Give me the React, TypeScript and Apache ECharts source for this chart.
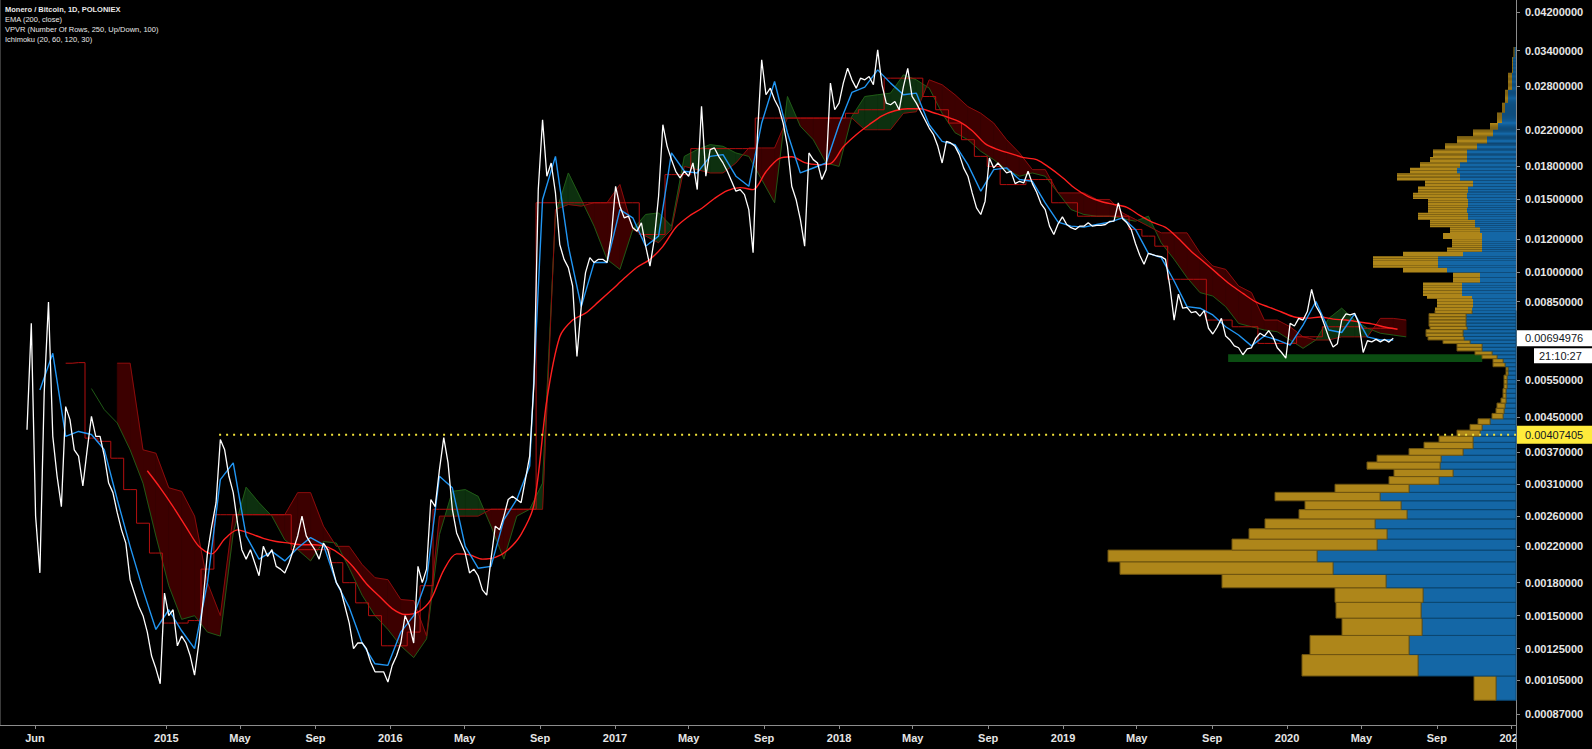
import React, { useEffect, useRef } from "react";
import * as echarts from "echarts";

// ---------------- texts ----------------
const headerLines = [
  "Monero / Bitcoin, 1D, POLONIEX",
  "EMA (200, close)",
  "VPVR (Number Of Rows, 250, Up/Down, 100)",
  "Ichimoku (20, 60, 120, 30)",
];
const monthNames = ["Jan", "Feb", "Mar", "Apr", "May", "Jun", "Jul", "Aug", "Sep", "Oct", "Nov", "Dec"];
// x tick dates [year, month, day]
const xTickDates = [
  [2014, 6, 1], [2015, 1, 1], [2015, 5, 1], [2015, 9, 1], [2016, 1, 1], [2016, 5, 1], [2016, 9, 1],
  [2017, 1, 1], [2017, 5, 1], [2017, 9, 1], [2018, 1, 1], [2018, 5, 1], [2018, 9, 1], [2019, 1, 1],
  [2019, 5, 1], [2019, 9, 1], [2020, 1, 1], [2020, 5, 1], [2020, 9, 1], [2021, 1, 1],
];
const yTickValues = [
  0.042, 0.034, 0.028, 0.022, 0.018, 0.015, 0.012, 0.01, 0.0085, 0.0055, 0.0045, 0.0037, 0.0031,
  0.0026, 0.0022, 0.0018, 0.0015, 0.00125, 0.00105, 0.00087,
];
const X_MIN = [2014, 4, 5];
const X_MAX = [2021, 1, 8];
const Y_MIN = 0.00082;
const Y_MAX = 0.045;

const LAST_PRICE = 0.00694976;
const LAST_TIME = "21:10:27";
const LEVEL_PRICE = 0.00407405;
const LEVEL_START = [2015, 3, 28];
const zoneDates = [[2019, 9, 27], [2020, 11, 14]];
const zonePrices = [0.00636, 0.00609];

// ---------------- weekly series (week 0 = 2014-05-19) ----------------
const WEEK0 = [2014, 5, 19];
const priceClose2014_2016 = [
  0.00419, 0.00754, 0.0026, 0.0019, 0.00513, 0.00848, 0.00404, 0.00324, 0.00274, 0.00476,
  0.00443, 0.00375, 0.00362, 0.00307, 0.00375, 0.00451, 0.00404, 0.00404, 0.00362, 0.00312,
  0.00296, 0.00265, 0.00241, 0.00224, 0.00183, 0.0017, 0.00158, 0.0015, 0.00137, 0.0012,
  0.00112, 0.00103, 0.0017, 0.0015, 0.00155, 0.00127, 0.00134, 0.00129, 0.0012, 0.00108,
  0.00129, 0.00164, 0.00212, 0.00246, 0.0028, 0.00397, 0.00375, 0.00324, 0.00296, 0.0025,
  0.00216, 0.00205, 0.00216, 0.00201, 0.00187, 0.0022, 0.00208, 0.00216, 0.00197, 0.00194,
  0.0019, 0.00201, 0.00216, 0.00233, 0.0026, 0.00233, 0.00224, 0.00216, 0.00205, 0.00224,
  0.00216, 0.00197, 0.0018, 0.00173, 0.00158, 0.00144, 0.00125, 0.00129, 0.00129, 0.00125,
  0.00116, 0.0011, 0.0011, 0.0011, 0.00104, 0.00114, 0.0012, 0.00129, 0.0015, 0.00142,
  0.00129, 0.00197, 0.0018, 0.00194, 0.00285, 0.00274, 0.00336, 0.00401, 0.00349, 0.0027,
  0.00237, 0.00224, 0.00212, 0.0019, 0.00194, 0.00187, 0.00173, 0.00168, 0.00205, 0.00246,
  0.00241, 0.0026, 0.00285, 0.0029, 0.00285, 0.0028, 0.00318, 0.00362, 0.00542,
];
const priceClose2016_2018 = [
  0.01579, 0.02322, 0.017, 0.01829, 0.0155, 0.01166, 0.01074, 0.01026, 0.00927, 0.00628,
  0.00827, 0.00998, 0.01084, 0.01055, 0.01074, 0.01074, 0.01055, 0.01221, 0.01608, 0.0144,
  0.01351, 0.01363, 0.01279, 0.01255, 0.01314, 0.01155, 0.01035, 0.01199, 0.01522, 0.02259,
  0.02005, 0.01863, 0.01747, 0.01684, 0.01747, 0.017, 0.01829, 0.01579, 0.025, 0.017,
  0.01969, 0.01987, 0.01897, 0.01829, 0.01747, 0.01653, 0.01565, 0.01579, 0.01536, 0.01414,
  0.01114, 0.02118, 0.03233, 0.02666, 0.02765, 0.02593, 0.02478, 0.0228, 0.02005, 0.01608,
  0.01495, 0.01339, 0.01155, 0.01933, 0.01863, 0.01829, 0.01669, 0.01763, 0.02843, 0.02454,
  0.02546, 0.02843, 0.03088, 0.02895, 0.02765, 0.02922, 0.02895, 0.02948, 0.02817, 0.03416,
  0.02817, 0.02546, 0.02523, 0.02569, 0.02454, 0.02791, 0.03086, 0.02641, 0.02546, 0.02431,
  0.02322, 0.02218, 0.02138, 0.02005, 0.01829, 0.02061, 0.02043, 0.02005, 0.01915, 0.0178,
  0.017, 0.0155, 0.01427, 0.01376, 0.01481, 0.0188, 0.0178, 0.01829,
];
const priceClose2018_2020 = [
  0.0178, 0.01731, 0.01747, 0.01632, 0.01653, 0.01638, 0.01747, 0.01632, 0.01556, 0.01462,
  0.01414, 0.0129, 0.01232, 0.01307, 0.01358, 0.01302, 0.01279, 0.01267, 0.0129, 0.0129,
  0.01314, 0.0129, 0.01295, 0.01295, 0.01302, 0.01324, 0.01327, 0.01467, 0.01344, 0.01314,
  0.01267, 0.01172, 0.01098, 0.01045, 0.0111, 0.01102, 0.01094, 0.0109, 0.01074, 0.00927,
  0.00768, 0.00886, 0.0082, 0.00824, 0.008, 0.00805, 0.00785, 0.00809, 0.00734, 0.00711,
  0.00738, 0.00775, 0.00703, 0.00688, 0.00666, 0.00659, 0.00634, 0.00655, 0.00659, 0.00694,
  0.00714, 0.00703, 0.00724, 0.007, 0.00659, 0.00642, 0.00622, 0.00754, 0.00743, 0.00775,
  0.00768, 0.00805, 0.0091, 0.0083, 0.00797, 0.00747, 0.00697, 0.00662, 0.00674, 0.00768,
  0.00795, 0.0079, 0.00797, 0.00754, 0.00642, 0.00685, 0.00681, 0.0069, 0.00681, 0.0069,
  0.0068, 0.00695,
];
// EMA 200, every 3 weeks from week 28
const ema200 = [
  0.00334, 0.00304, 0.00274, 0.00245, 0.0022, 0.00211, 0.00229, 0.00241, 0.00236, 0.0023,
  0.00226, 0.00224, 0.00222, 0.00222, 0.00219, 0.0021, 0.00196, 0.00179, 0.00167, 0.00156,
  0.00151, 0.00153, 0.00164, 0.00193, 0.00211, 0.0021, 0.00205, 0.00207, 0.00216, 0.00235,
  0.00277, 0.00494, 0.007, 0.00768, 0.00798, 0.00849, 0.00905, 0.00967, 0.01028, 0.01074,
  0.01154, 0.01281, 0.01361, 0.01422, 0.01503, 0.0157, 0.01596, 0.01579, 0.01743, 0.01873,
  0.01893, 0.01832, 0.01812, 0.01822, 0.02, 0.02138, 0.02259, 0.02374, 0.02441, 0.02468,
  0.02468, 0.02414, 0.02361, 0.02297, 0.02186, 0.02035, 0.01969, 0.01926, 0.01884, 0.01863,
  0.01782, 0.01688, 0.01588, 0.01519, 0.01478, 0.01454, 0.01431, 0.01369, 0.01317, 0.01281,
  0.01205, 0.01122, 0.01057, 0.00994, 0.00936, 0.0089, 0.00849, 0.00825, 0.00803, 0.00781,
  0.00776, 0.00781, 0.00772, 0.00768, 0.0076, 0.00752, 0.00739, 0.0073,
];
// Ichimoku conversion line, every 3 weeks from week 3
const tenkan = [
  0.00522, 0.00639, 0.00404, 0.00415, 0.00408, 0.00375, 0.00285, 0.0022, 0.00173, 0.00139,
  0.00155, 0.00138, 0.00125, 0.0018, 0.00318, 0.00349, 0.00233, 0.00205, 0.00214, 0.00203,
  0.00218, 0.00231, 0.00222, 0.0018, 0.00157, 0.00129, 0.00115, 0.00114, 0.00137, 0.0015,
  0.00183, 0.00324, 0.00304, 0.0022, 0.00195, 0.00197, 0.00255, 0.00285, 0.00343, 0.01495,
  0.01897, 0.01155, 0.00827, 0.01055, 0.01055, 0.01414, 0.01351, 0.01155, 0.01221, 0.01933,
  0.01747, 0.01731, 0.01897, 0.01915, 0.017, 0.01608, 0.0228, 0.02868, 0.02158, 0.01731,
  0.01779, 0.01829, 0.02259, 0.027, 0.0278, 0.03059, 0.02843, 0.02666, 0.0269, 0.02259,
  0.02061, 0.02024, 0.01812, 0.01565, 0.01763, 0.0178, 0.01669, 0.01653, 0.01467, 0.01319,
  0.0129, 0.01283, 0.01302, 0.01319, 0.01351, 0.01267, 0.0111, 0.01084, 0.00953, 0.00827,
  0.0082, 0.0079, 0.0074, 0.00707, 0.00666, 0.00703, 0.00688, 0.00669, 0.00747, 0.00851,
  0.00727, 0.00717, 0.00795, 0.007, 0.00688, 0.00688,
];
// Ichimoku base line, every 3 weeks from week 9
const kijun = [
  0.00605, 0.00607, 0.004, 0.00393, 0.00358, 0.00301, 0.0025, 0.00212, 0.00144, 0.00144,
  0.00146, 0.00194, 0.00262, 0.00262, 0.00262, 0.00262, 0.00262, 0.00262, 0.00216, 0.00216,
  0.00216, 0.00201, 0.0018, 0.00161, 0.0015, 0.00127, 0.00127, 0.00137, 0.00177, 0.0027,
  0.0027, 0.0027, 0.0027, 0.0027, 0.0027, 0.0027, 0.0027, 0.01468, 0.01468, 0.01468,
  0.01468, 0.01468, 0.01468, 0.01468, 0.01468, 0.01232, 0.01232, 0.01715, 0.01715, 0.0198,
  0.0198, 0.0198, 0.0198, 0.0198, 0.02344, 0.02344, 0.02344, 0.02344, 0.02344, 0.02344,
  0.02344, 0.02407, 0.02454, 0.02454, 0.02922, 0.02922, 0.02922, 0.0264, 0.02454, 0.0228,
  0.0208, 0.01897, 0.01795, 0.01623, 0.01623, 0.01669, 0.01669, 0.01468, 0.01468, 0.01363,
  0.01363, 0.01363, 0.01363, 0.01267, 0.01221, 0.01155, 0.00962, 0.00962, 0.00962, 0.00768,
  0.00768, 0.0074, 0.0074, 0.00675, 0.00675, 0.00675, 0.007, 0.007, 0.0074, 0.0074,
  0.0074, 0.00734, 0.00734, 0.00734,
];
// Leading span A, every 3 weeks from week 15
const leadA = [
  0.00526, 0.00468,
  0.00435, 0.00375, 0.00312, 0.00233, 0.00177, 0.00147, 0.0015, 0.00137, 0.00134, 0.00237,
  0.00305, 0.0028, 0.0026, 0.00228, 0.00216, 0.00203, 0.00226, 0.00224, 0.00195, 0.00168,
  0.0015, 0.00139, 0.00127, 0.00119, 0.00132, 0.00235, 0.00298, 0.00301, 0.0029, 0.00246,
  0.00205, 0.0026, 0.0027, 0.00312, 0.01376, 0.01731, 0.01495, 0.0129, 0.01074, 0.01016,
  0.01267, 0.01376, 0.01388, 0.0129, 0.01897, 0.01969, 0.02024, 0.02005, 0.01933, 0.01897,
  0.01669, 0.01468, 0.0264, 0.0224, 0.0208, 0.01829, 0.01795, 0.02365, 0.0264, 0.02666,
  0.0269, 0.02976, 0.02895, 0.02765, 0.02407, 0.02162, 0.0208, 0.01951, 0.01863, 0.01763,
  0.017, 0.01731, 0.017, 0.0155, 0.01414, 0.01376, 0.01363, 0.01363, 0.01344, 0.01326,
  0.01363, 0.01177, 0.01074, 0.00971, 0.00894, 0.00877, 0.00827, 0.00754, 0.0074, 0.00727,
  0.0072, 0.00688, 0.00657, 0.00688, 0.00775, 0.0082, 0.00768, 0.00734, 0.00714, 0.00707, 0.007,
];
// Leading span B, every 3 weeks from week 21
const leadB = [
  0.00605, 0.00605, 0.00375, 0.00368, 0.00304, 0.00298, 0.0026, 0.0018, 0.0015, 0.00262,
  0.00262, 0.00262, 0.00262, 0.00262, 0.00296, 0.00296, 0.00246, 0.0022, 0.0022, 0.00199,
  0.00185, 0.00183, 0.00164, 0.00163, 0.00134, 0.0026, 0.0026, 0.0026, 0.0026, 0.0027,
  0.0027, 0.0027, 0.0027, 0.0027, 0.01414, 0.01454, 0.01441, 0.01468, 0.01468, 0.01623,
  0.01267, 0.01221, 0.01177, 0.01267, 0.01795, 0.01763, 0.01731, 0.01731, 0.01829, 0.01987,
  0.01987, 0.01987, 0.02344, 0.02344, 0.02344, 0.02344, 0.02344, 0.02344, 0.02198, 0.02198,
  0.02198, 0.02407, 0.02428, 0.02895, 0.02817, 0.02666, 0.02497, 0.02407, 0.0228, 0.0208,
  0.01933, 0.01763, 0.01763, 0.0155, 0.0155, 0.0155, 0.01495, 0.01495, 0.01388, 0.01339,
  0.0129, 0.01243, 0.01243, 0.01243, 0.01114, 0.01035, 0.01016, 0.00927, 0.00894, 0.00768,
  0.00768, 0.0074, 0.007, 0.00688, 0.00688, 0.007, 0.007, 0.007, 0.00775, 0.00775, 0.00768,
];

// ---------------- volume profile (250 equal price rows, bottom-up bands) ----------------
const VP_BASE = 0.00094;
const VP_STEP = 0.000135;
const vpBandRows = [
  1, 1, 1, 1, 1, 1, 1, 1, 1, 1, 1, 1, 1, 1, 1, 1, 1, 1, 1, 1, 1, 1, 1, 1, 1, 1,
  1, 1, 1, 1, 2, 1, 2, 2, 1, 1, 1, 1, 2, 1, 1, 2, 1, 4, 2, 3, 1, 3, 2, 2, 2, 2, 2, 3, 2, 2,
  4, 3, 3, 4, 4, 3, 5, 4, 4, 4, 5, 4, 4, 4, 6, 5, 6, 6, 6, 10, 10, 14, 20, 20, 14,
];
const vpUp = [
  20, 98, 107, 94, 95, 93, 130, 183, 199, 139, 129, 141, 109, 115, 136, 107, 77, 63, 76, 75, 53, 43, 43, 36, 34, 26,
  13, 12, 11, 10, 10, 9, 9, 8, 11, 13, 19, 24, 34, 46, 52, 53, 49, 50, 44, 43, 44, 54, 54, 36, 36, 69, 78, 78, 53, 34,
  34, 34, 36, 41, 48, 49, 48, 49, 48, 43, 56, 59, 56, 49, 49, 39, 29, 23, 18, 14, 11, 8, 4, 3, 1.5,
];
const vpDown = [
  22, 116, 99, 80, 85, 88, 164, 213, 209, 145, 138, 110, 108, 96, 105, 74, 50, 59, 73, 64, 54, 49, 34, 23, 12, 12,
  11, 8, 8, 5, 3, 3, 3, 2, 12, 10, 15, 17, 25, 27, 36, 37, 37, 37, 37, 36, 45, 39, 39, 27, 27, 44, 65, 65, 60, 35,
  30, 39, 30, 45, 50, 39, 40, 54, 50, 48, 63, 47, 40, 37, 34, 32, 30, 20, 8, 5, 3, 3, 4, 1, 1,
];

// ---------------- layout / style ----------------
const W = 1592;
const H = 749;
const GRID_RIGHT = 76;
const GRID_BOTTOM = 24;
const AXIS_X = W - GRID_RIGHT;
const FONT = "Liberation Sans";
const AXIS_COLOR = "#8c8c8c";
const LABEL_COLOR = "#e6e6e6";
const VP_BLUE = "#1467a6";
const VP_BLUE_EDGE = "#0b4670";
const VP_GOLD = "#ae861a";
const VP_GOLD_EDGE = "#6e5410";
const CLOUD_UP = "#0d300f";
const CLOUD_DOWN = "#3c0000";

const DAY = 86400000;
const ts = (d: number[]) => new Date(d[0], d[1] - 1, d[2]).getTime();
const week0 = ts(WEEK0);
const weekTs = (w: number) => week0 + w * 7 * DAY;
const weekly = (start: number, step: number, vals: number[]) =>
  vals.map((v, i) => [weekTs(start + i * step), v]);

export default function App() {
  const ref = useRef<HTMLDivElement>(null);

  useEffect(() => {
    const chart = echarts.init(ref.current as HTMLDivElement, null, { renderer: "svg", width: W, height: H });

    const priceClose = [...priceClose2014_2016, ...priceClose2016_2018, ...priceClose2018_2020];
    const cloudData = leadB.map((b, j) => [weekTs(21 + 3 * j), leadA[j + 2], b]);

    const vpRows: number[][] = [];
    let r = 0;
    vpBandRows.forEach((n, b) => {
      for (let j = 0; j < n; j++, r++) {
        vpRows.push([VP_BASE + r * VP_STEP, VP_BASE + (r + 1) * VP_STEP, vpUp[b], vpDown[b]]);
      }
    });

    const xTicks = xTickDates.map(ts);
    const xMax = ts(X_MAX);

    const lineSeries = (name: string, data: any[], color: string, width: number, z: number, extra: any = {}) => ({
      name,
      type: "line",
      data,
      showSymbol: false,
      symbol: "none",
      silent: true,
      z,
      lineStyle: { color, width },
      ...extra,
    });

    const option: any = {
      animation: false,
      backgroundColor: "#000000",
      textStyle: { fontFamily: FONT },
      grid: { left: 0, right: GRID_RIGHT, top: 0, bottom: GRID_BOTTOM, containLabel: false },
      xAxis: [
        {
          type: "value",
          min: ts(X_MIN),
          max: xMax,
          scale: true,
          axisLine: { show: true, lineStyle: { color: AXIS_COLOR, width: 1 } },
          axisTick: { show: true, length: 4, customValues: xTicks, lineStyle: { color: AXIS_COLOR } },
          splitLine: { show: false },
          axisLabel: {
            customValues: xTicks,
            color: LABEL_COLOR,
            fontSize: 11,
            fontWeight: "bold",
            fontFamily: FONT,
            margin: 7,
            formatter: (v: number) => {
              const d = new Date(v);
              return d.getMonth() === 0 ? String(d.getFullYear()) : monthNames[d.getMonth()];
            },
          },
        },
        { type: "value", min: 0, max: W - GRID_RIGHT, inverse: true, show: false, position: "top" },
      ],
      yAxis: [
        {
          type: "log",
          logBase: 10,
          min: Y_MIN,
          max: Y_MAX,
          position: "right",
          axisLine: { show: true, lineStyle: { color: AXIS_COLOR, width: 1 } },
          axisTick: { show: true, length: 4, customValues: yTickValues, lineStyle: { color: AXIS_COLOR } },
          splitLine: { show: false },
          axisLabel: {
            customValues: yTickValues,
            color: LABEL_COLOR,
            fontSize: 11,
            fontWeight: "bold",
            fontFamily: FONT,
            margin: 9,
            formatter: (v: number) => Number(v).toFixed(8),
          },
        },
      ],
      series: [
        {
          name: "cloud",
          type: "custom",
          coordinateSystem: "cartesian2d",
          silent: true,
          z: 1,
          encode: { x: 0, y: [1, 2] },
          data: cloudData,
          renderItem: (params: any, api: any) => {
            const j = params.dataIndex;
            if (j >= cloudData.length - 1) return { type: "group", children: [] };
            const c0 = cloudData[j];
            const c1 = cloudData[j + 1];
            const a0 = api.coord([c0[0], c0[1]]);
            const b0 = api.coord([c0[0], c0[2]]);
            const a1 = api.coord([c1[0], c1[1]]);
            const b1 = api.coord([c1[0], c1[2]]);
            const d0 = b0[1] - a0[1];
            const d1 = b1[1] - a1[1];
            const col = (d: number) => (d > 0 ? CLOUD_UP : CLOUD_DOWN);
            const poly = (pts: number[][], c: string) => ({
              type: "polygon",
              shape: { points: pts },
              style: { fill: c, stroke: c, lineWidth: 0.6 },
            });
            if (d0 * d1 >= 0) return { type: "group", children: [poly([a0, a1, b1, b0], col(d0 + d1))] };
            const f = d0 / (d0 - d1);
            const p = [a0[0] + f * (a1[0] - a0[0]), a0[1] + f * (a1[1] - a0[1])];
            return { type: "group", children: [poly([a0, p, b0], col(d0)), poly([p, a1, b1], col(d1))] };
          },
        },
        {
          name: "zone",
          type: "custom",
          coordinateSystem: "cartesian2d",
          silent: true,
          z: 1,
          encode: { x: [0, 1], y: [2, 3] },
          data: [[ts(zoneDates[0]), ts(zoneDates[1]), zonePrices[0], zonePrices[1]]],
          renderItem: (params: any, api: any) => {
            const p0 = api.coord([api.value(0), api.value(2)]);
            const p1 = api.coord([api.value(1), api.value(3)]);
            return {
              type: "rect",
              shape: { x: p0[0], y: p0[1], width: p1[0] - p0[0], height: p1[1] - p0[1] },
              style: { fill: "#0b4d12" },
            };
          },
        },
        lineSeries("Lead A", weekly(15, 3, leadA), "#1f5a16", 1, 2),
        lineSeries("Lead B", weekly(21, 3, leadB), "#8a0c0c", 1, 2),
        lineSeries("Base", weekly(9, 3, kijun), "#b30f0f", 1, 3, { step: "middle" }),
        lineSeries("EMA", weekly(28, 3, ema200), "#ff1f1f", 1.4, 4, { smooth: 0.3 }),
        lineSeries("Conversion", weekly(3, 3, tenkan), "#2196f3", 1.4, 5),
        lineSeries("Close", weekly(0, 1, priceClose), "#ffffff", 1.3, 6),
        {
          name: "vpvr",
          type: "custom",
          coordinateSystem: "cartesian2d",
          xAxisIndex: 1,
          yAxisIndex: 0,
          silent: true,
          z: 7,
          encode: { x: [2, 3], y: [0, 1] },
          data: vpRows,
          renderItem: (params: any, api: any) => {
            const low = api.value(0);
            const high = api.value(1);
            const up = api.value(2);
            const down = api.value(3);
            const pLow = api.coord([0, low]);
            const pUp = api.coord([up, high]);
            const pAll = api.coord([up + down, high]);
            const h = pLow[1] - pUp[1];
            const edge = h > 3;
            return {
              type: "group",
              children: [
                {
                  type: "rect",
                  shape: { x: pUp[0], y: pUp[1], width: pLow[0] - pUp[0], height: h },
                  style: { fill: VP_BLUE, stroke: edge ? VP_BLUE_EDGE : null, lineWidth: edge ? 1 : 0 },
                },
                {
                  type: "rect",
                  shape: { x: pAll[0], y: pUp[1], width: pUp[0] - pAll[0], height: h },
                  style: { fill: VP_GOLD, stroke: edge ? VP_GOLD_EDGE : null, lineWidth: edge ? 1 : 0 },
                },
              ],
            };
          },
        },
        lineSeries(
          "Level",
          [[ts(LEVEL_START), LEVEL_PRICE], [xMax, LEVEL_PRICE]],
          "#f2e33a",
          2,
          9,
          { lineStyle: { color: "#f2e33a", width: 2, type: [2, 5] } }
        ),
      ],
    };

    chart.setOption(option);

    const yLast = chart.convertToPixel({ yAxisIndex: 0 }, LAST_PRICE) as number;
    const yLevel = chart.convertToPixel({ yAxisIndex: 0 }, LEVEL_PRICE) as number;
    const plotBottom = H - GRID_BOTTOM;

    const graphics: any[] = headerLines.map((t, i) => ({
      type: "text",
      x: 5,
      y: 9 + i * 10,
      z: 50,
      style: {
        text: t,
        fill: "#e8e8e8",
        fontSize: 7.5,
        fontWeight: i === 0 ? "bold" : "normal",
        fontFamily: FONT,
        verticalAlign: "middle",
      },
    }));
    graphics.push(
      { type: "line", z: 50, shape: { x1: 0.5, y1: 0, x2: 0.5, y2: plotBottom }, style: { stroke: "#3a3a3a", lineWidth: 1 } },
      { type: "rect", z: 60, shape: { x: AXIS_X + 1, y: plotBottom + 1, width: W - AXIS_X - 1, height: GRID_BOTTOM }, style: { fill: "#000000" } },
      { type: "line", z: 61, shape: { x1: AXIS_X + 0.5, y1: plotBottom, x2: AXIS_X + 0.5, y2: H }, style: { stroke: AXIS_COLOR, lineWidth: 1 } },
      { type: "rect", z: 70, shape: { x: AXIS_X + 1, y: yLast - 8, width: W - AXIS_X - 1, height: 16 }, style: { fill: "#ffffff" } },
      {
        type: "text", z: 71, x: AXIS_X + 9, y: yLast,
        style: { text: LAST_PRICE.toFixed(8), fill: "#131722", fontSize: 11, fontFamily: FONT, verticalAlign: "middle" },
      },
      { type: "rect", z: 70, shape: { x: AXIS_X + 18, y: yLast + 10, width: W - AXIS_X - 18, height: 15 }, style: { fill: "#ffffff" } },
      {
        type: "text", z: 71, x: AXIS_X + 23, y: yLast + 17.5,
        style: { text: LAST_TIME, fill: "#131722", fontSize: 11, fontFamily: FONT, verticalAlign: "middle" },
      },
      { type: "rect", z: 70, shape: { x: AXIS_X + 1, y: yLevel - 9, width: W - AXIS_X - 1, height: 18 }, style: { fill: "#ffeb3b" } },
      {
        type: "text", z: 71, x: AXIS_X + 9, y: yLevel,
        style: { text: LEVEL_PRICE.toFixed(8), fill: "#131722", fontSize: 11, fontFamily: FONT, verticalAlign: "middle" },
      }
    );
    chart.setOption({ graphic: graphics });

    return () => chart.dispose();
  }, []);

  return (
    <div
      ref={ref}
      style={{ position: "fixed", left: 0, top: 0, width: W, height: H, background: "#000000" }}
    />
  );
}
